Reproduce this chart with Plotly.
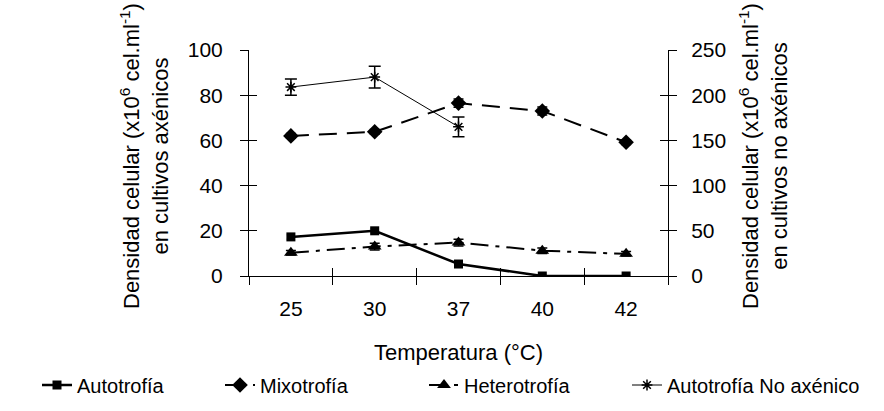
import plotly.graph_objects as go

temps = ["25", "30", "37", "40", "42"]
auto = [17.3, 20.0, 5.3, 0.0, 0.0]
auto_err = [1.0, 1.0, 0.8, 0.3, 0.3]
mixo = [62.0, 63.8, 76.5, 73.0, 59.2]
mixo_err = [1.0, 1.0, 1.8, 1.8, 1.0]
hetero = [10.3, 13.0, 14.8, 11.2, 9.8]
hetero_err = [1.0, 1.5, 1.5, 1.2, 1.0]
noax_temps = ["25", "30", "37"]
noax = [209, 220, 165]
noax_err = [9, 12, 11]

left_ticks = [0, 20, 40, 60, 80, 100]
right_ticks = [0, 50, 100, 150, 200, 250]

left_title = "Densidad celular (x10<sup>6</sup> cel.ml<sup>-1</sup>)<br>en cultivos axénicos"
right_title = "Densidad celular (x10<sup>6</sup> cel.ml<sup>-1</sup>)<br>en cultivos no axénicos"
x_title = "Temperatura (°C)"

FONT = "Liberation Sans, Arial, sans-serif"
BLACK = "#000000"

fig = go.Figure()

def err(vals, w):
    return dict(type="data", array=vals, color=BLACK, thickness=1.5, width=w, visible=True)

fig.add_trace(go.Scatter(
    x=temps, y=auto, name="Autotrofía", mode="lines+markers",
    line=dict(color=BLACK, width=2.5),
    marker=dict(symbol="square", size=9, color=BLACK),
    error_y=err(auto_err, 4), legend="legend"))
fig.add_trace(go.Scatter(
    x=temps, y=mixo, name="Mixotrofía", mode="lines+markers",
    line=dict(color=BLACK, width=2, dash="18px,10px"),
    marker=dict(symbol="diamond", size=12, color=BLACK),
    error_y=err(mixo_err, 5), legend="legend2"))
fig.add_trace(go.Scatter(
    x=temps, y=hetero, name="Heterotrofía", mode="lines+markers",
    line=dict(color=BLACK, width=2, dash="18px,7px,4px,7px"),
    marker=dict(symbol="triangle-up", size=12, color=BLACK),
    error_y=err(hetero_err, 5), legend="legend3"))
fig.add_trace(go.Scatter(
    x=noax_temps, y=noax, name="Autotrofía No axénico", mode="lines+markers",
    yaxis="y2",
    line=dict(color=BLACK, width=1),
    marker=dict(symbol="asterisk-open", size=9, color=BLACK, line=dict(color=BLACK, width=1.5)),
    error_y=err(noax_err, 6), legend="legend4"))

# dummy traces to draw the inner halves of the crossing tick marks
fig.add_trace(go.Scatter(x=temps, y=[None] * 5, xaxis="x2", yaxis="y3",
                         showlegend=False, hoverinfo="skip"))
fig.add_trace(go.Scatter(x=temps, y=[None] * 5, yaxis="y4",
                         showlegend=False, hoverinfo="skip"))

axis_common = dict(showgrid=False, zeroline=False, linecolor=BLACK, linewidth=1,
                   tickcolor=BLACK, tickwidth=1, ticklen=8,
                   tickfont=dict(family=FONT, size=21, color=BLACK))

fig.update_layout(
    width=884, height=411,
    margin=dict(l=249, r=216, t=50, b=135, autoexpand=False),
    paper_bgcolor="white", plot_bgcolor="white",
    font=dict(family=FONT, size=20, color=BLACK),
    xaxis=dict(axis_common, type="category", categoryorder="array", categoryarray=temps,
               range=[-0.5, 4.5], tickson="boundaries", ticks="outside", showline=True,
               ticklabelstandoff=14,
               title=dict(text=x_title, standoff=29,
                          font=dict(family=FONT, size=22, color=BLACK))),
    xaxis2=dict(axis_common, type="category", categoryorder="array", categoryarray=temps,
                range=[-0.5, 4.5], tickson="boundaries", ticks="inside", showline=False,
                showticklabels=False, overlaying="x", anchor="y3", side="bottom"),
    yaxis=dict(axis_common, range=[0, 100], tickvals=left_ticks, ticks="outside",
               showline=True, ticklabelstandoff=13),
    yaxis2=dict(axis_common, range=[0, 250], tickvals=right_ticks, ticks="outside",
                showline=True, overlaying="y", side="right", anchor="x", ticklabelstandoff=10),
    yaxis3=dict(axis_common, range=[0, 100], tickvals=left_ticks, ticks="inside",
                showline=False, showticklabels=False, overlaying="y", side="left", anchor="x2"),
    yaxis4=dict(axis_common, range=[0, 250], tickvals=right_ticks, ticks="inside",
                showline=False, showticklabels=False, overlaying="y", side="right", anchor="x"),
    showlegend=True,
)

fig.add_annotation(text=left_title, textangle=-90, xref="paper", yref="paper",
                   x=(144 - 249) / 419, y=(276 - 156) / 226, xanchor="center", yanchor="middle",
                   showarrow=False, font=dict(family=FONT, size=22, color=BLACK))
fig.add_annotation(text=right_title, textangle=-90, xref="paper", yref="paper",
                   x=(763 - 249) / 419, y=(276 - 156) / 226, xanchor="center", yanchor="middle",
                   showarrow=False, font=dict(family=FONT, size=22, color=BLACK))

leg_common = dict(orientation="h", xref="container", yref="container",
                  yanchor="middle", y=1 - 385 / 411, xanchor="left",
                  bgcolor="rgba(0,0,0,0)", font=dict(family=FONT, size=20, color=BLACK),
                  itemsizing="trace")
fig.update_layout(
    legend=dict(leg_common, x=37 / 884),
    legend2=dict(leg_common, x=220 / 884),
    legend3=dict(leg_common, x=424 / 884),
    legend4=dict(leg_common, x=627 / 884),
)

fig.write_html("out.html")
